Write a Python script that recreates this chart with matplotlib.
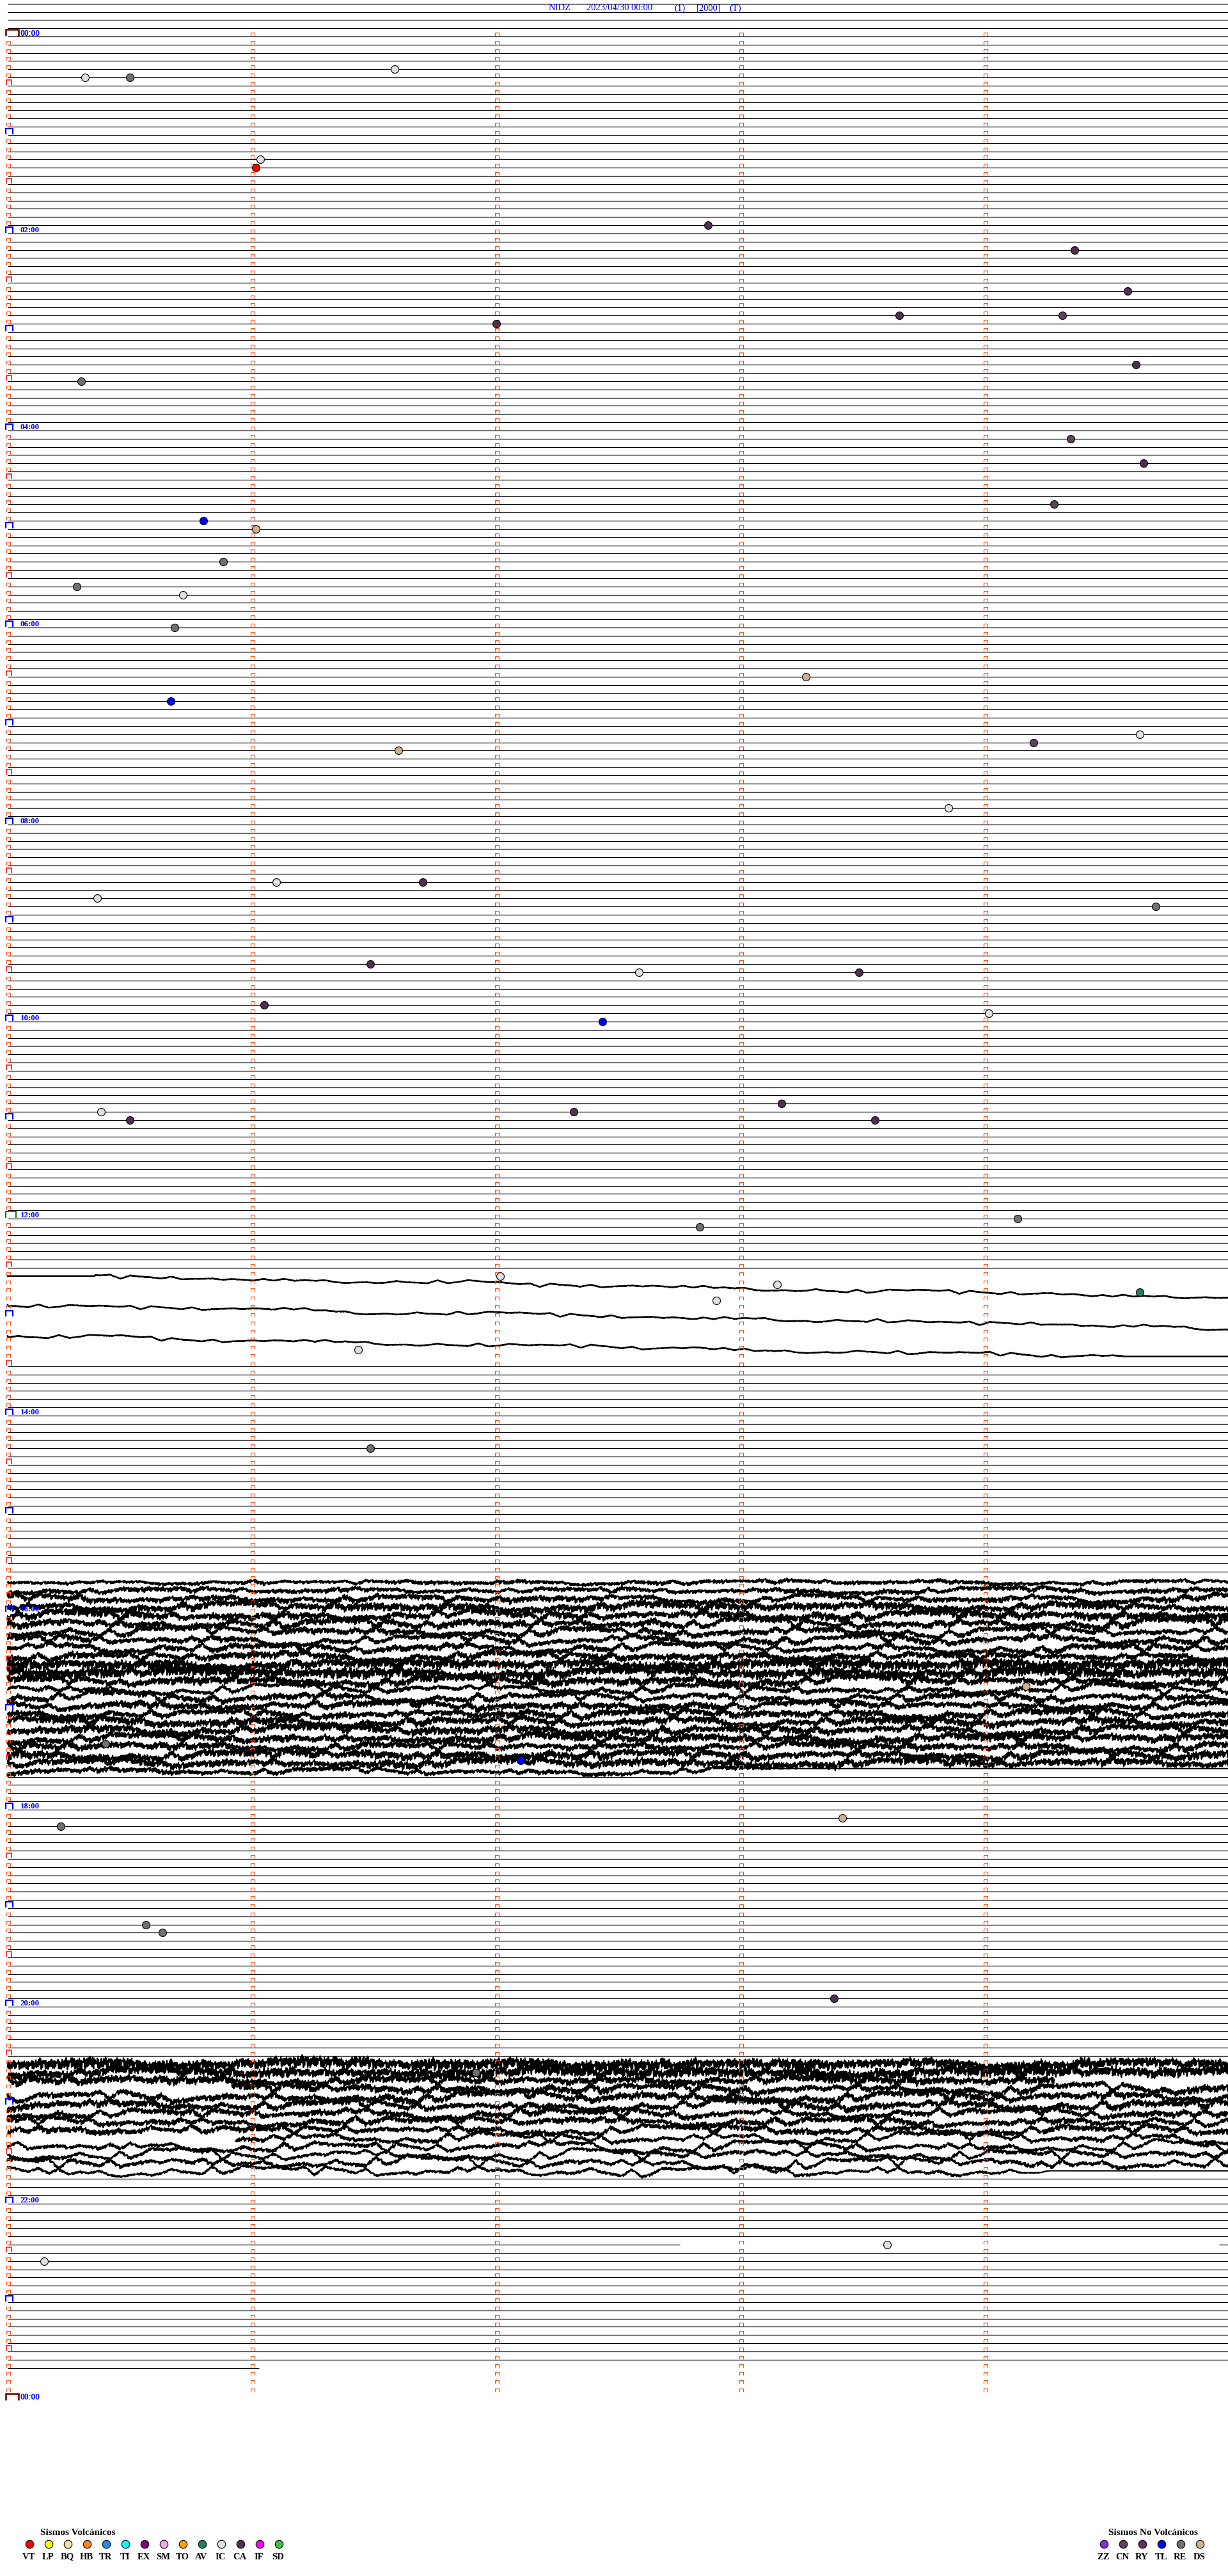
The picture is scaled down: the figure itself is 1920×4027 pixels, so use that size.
import numpy as np
import matplotlib.pyplot as plt
from matplotlib.collections import LineCollection

title_parts = ["NIDZ", "2023/04/30 00:00", "(1)", "[2000]", "(T)"]

n_rows = 288            # 5-minute rows, 00:00 -> 24:00
pre_rows = 4            # empty rows drawn above 00:00
last_row = 284          # last row with data
last_row_end_s = 61.7   # data stops here in the last row

hour_labels = ["00:00", "02:00", "04:00", "06:00", "08:00", "10:00", "12:00",
               "14:00", "16:00", "18:00", "20:00", "22:00", "00:00"]

volc_codes = ["VT", "LP", "BQ", "HB", "TR", "TI", "EX", "SM", "TO", "AV", "IC", "CA", "IF", "SD"]
volc_colors = ["#ff0000", "#ffff00", "#f0e0a8", "#ff8010", "#2888f0", "#00ffff", "#800080",
               "#f0a8e8", "#ffa000", "#208060", "#e0e0e0", "#503050", "#ff00ff", "#40c040"]
novolc_codes = ["ZZ", "CN", "RY", "TL", "RE", "DS"]
novolc_colors = ["#8030d0", "#604060", "#603060", "#0000ff", "#707070", "#d0b090"]

event_times = ["00:21:35", "00:25:19", "00:25:30", "01:16:02", "01:21:01", "01:57:52",
               "02:14:22", "02:39:35", "02:53:39", "02:54:19", "02:57:00", "03:24:37",
               "03:30:18", "04:09:21", "04:24:39", "04:49:17", "04:55:48", "05:01:01",
               "05:20:53", "05:35:17", "05:40:43", "06:00:41", "06:33:16", "06:45:40",
               "07:09:38", "07:14:12", "07:16:36", "07:53:51", "08:36:06", "08:36:42",
               "08:45:22", "08:54:42", "09:26:29", "09:32:35", "09:33:29", "09:51:03",
               "09:59:01", "10:02:26", "10:53:10", "10:55:23", "10:57:19", "11:00:30",
               "11:03:33", "12:04:08", "12:07:50", "12:37:01", "12:43:09", "12:49:38",
               "12:52:54", "13:21:26", "14:21:29", "16:49:10", "17:20:24", "17:32:06",
               "18:08:25", "18:10:13", "19:10:34", "19:15:38", "19:58:23", "20:41:55",
               "22:28:36", "22:35:09"]
event_types = ["IC", "IC", "RE", "IC", "VT", "CA",
               "CA", "CA", "CA", "CN", "CA", "CA",
               "RE", "CN", "CA", "CN", "TL", "DS",
               "RE", "RE", "IC", "RE", "DS", "TL",
               "IC", "CN", "DS", "IC", "IC", "CA",
               "IC", "RE", "CA", "IC", "CA", "CA",
               "IC", "TL", "CA", "IC", "CA", "CA",
               "CA", "RE", "RE", "IC", "IC", "AV",
               "IC", "IC", "RE", "DS", "RE", "TL",
               "DS", "RE", "RE", "RE", "CA", "RE",
               "IC", "IC"]

# noisy rows: high-frequency / long-period amplitude (px) and offset (px)
noise_rows = [188, 189, 190, 191, 192, 193, 194, 195, 196, 197, 198, 199,
              200, 201, 202, 203, 204, 205, 206, 207, 208, 209, 210, 211,
              247, 248, 249, 250, 251, 252, 253, 254, 255, 256, 257, 258, 259, 260]
noise_hf = [4, 5, 6, 8, 8, 7, 6, 6, 6, 7, 11, 11,
            8, 5, 6, 7, 7, 8, 8, 8, 7, 8, 8, 5,
            12, 11, 8, 7, 7, 7, 6, 6, 6, 4, 4, 4, 4, 3]
noise_lf = [3, 4, 5, 5, 6, 7, 7, 7, 7, 6, 5, 5,
            6, 7, 7, 6, 6, 6, 6, 6, 6, 6, 5, 5,
            4, 5, 6, 7, 7, 7, 7, 7, 7, 8, 8, 8, 9, 8]
noise_off = [4, 4, 4, 4, 4, 4, 4, 4, 4, 4, 4, 4,
             4, 4, 4, 4, 4, 4, 4, 4, 4, 4, 4, 4,
             0, 0, 0, 0, 0, 0, 0, 0, 0, 0, 0, 0, 0, 0]
calm_rows = [211, 260]          # noise dies out, flat afterwards
calm_from_s = [191.0, 257.0]

# rows with missing data: spans (s) where a trace exists
gap_rows = [249, 250, 256, 269]
gap_spans = [[(0, 257)], [(55, 300)], [(56, 300)], [(0, 165), (297.5, 300)]]

# 12:35 time-base glitch: three drifting traces
glitch_row0 = [151.0, 154.5, 158.3]
glitch_row1 = [153.6, 157.3, 160.8]
glitch_flat_to = [21.4, 0.0, 0.0]
glitch_flat_from = [300.0, 300.0, 274.5]
glitch_rows = list(range(151, 162))

# hand-drawn wiggle used as trace texture
wiggle = [0.1, 0.8, -0.3, -0.9, 0.4, 0.6, -0.7, 0.2, 0.95, -0.5, -0.1, 0.7, -0.8, 0.3,
          0.5, -0.6, -0.2, 0.9, -0.4, 0.0, 0.65, -0.95, 0.35, -0.15, 0.75, -0.55, 0.45,
          -0.85, 0.25, 0.55, -0.35, -0.75, 0.85, -0.05, 0.15, -0.65, 0.5, -0.25, 0.7,
          -0.45, 0.05]

# ---------------- layout ----------------
W, H, DPI = 1920, 4027, 100
ROW_PX = 12.833
TOP_PX = 57.0
X0_PX = 12.0
MIN_PX = 382.0
SPX = 60.0 / MIN_PX     # seconds per pixel
RPX = 1.0 / ROW_PX      # rows per pixel
LW = 0.72               # 1 px in points

fig = plt.figure(figsize=(W / DPI, H / DPI), dpi=DPI)
ax = fig.add_axes([0, 0, 1, 1])
ax.set_xlim(-X0_PX * SPX, (W - X0_PX) * SPX)
ax.set_ylim((H - TOP_PX) * RPX, -TOP_PX * RPX)
ax.axis("off")

w = np.array(wiggle)
nw = len(w)
SUB = 2                  # samples per pixel
NPT = 1910 * SUB
jj = np.arange(NPT + 1)
ss = jj * 300.0 / NPT


def texture(r, hf, lf):
    kv = np.arange(0, NPT + 16 * SUB, 16 * SUB)
    lfc = np.interp(jj, kv, w[(3 * np.arange(len(kv)) + 7 * r) % nw])
    sv = np.arange(0, NPT + 90 * SUB, 90 * SUB)
    swc = np.interp(jj, sv, w[(5 * np.arange(len(sv)) + 3 * r + 2) % nw])
    hfc = 0.75 * w[(7 * jj + 11 * r) % nw] + 0.25 * w[((jj // 5) * 5 + 3 * r) % nw]
    env = 0.6 + 0.4 * np.abs(w[((jj // (45 * SUB)) * 3 + 2 * r) % nw])
    return lf * lfc + 0.6 * lf * swc + hf * hfc * env


def span_mask(r):
    if r in gap_rows:
        m = np.zeros_like(ss, dtype=bool)
        for a, b in gap_spans[gap_rows.index(r)]:
            m |= (ss >= a) & (ss <= b)
        return m
    return np.ones_like(ss, dtype=bool)


# flat rows
segs = []
for r in range(-pre_rows, last_row + 1):
    if r in noise_rows or r in glitch_rows:
        continue
    if r == last_row:
        segs.append([(0, r), (last_row_end_s, r)])
    elif r in gap_rows:
        for a, b in gap_spans[gap_rows.index(r)]:
            segs.append([(a, r), (b, r)])
    else:
        segs.append([(0, r), (300, r)])
ax.add_collection(LineCollection(segs, colors="black", linewidths=1.2 * LW, zorder=2))

# noisy rows
for r, hf, lf, off in zip(noise_rows, noise_hf, noise_lf, noise_off):
    y = off + texture(r, hf, lf)
    if r in calm_rows:
        c = calm_from_s[calm_rows.index(r)]
        y = y * np.clip((c - ss) / 12.0, 0, 1)
    yr = r + y * RPX
    yr = np.where(span_mask(r), yr, np.nan)
    ax.plot(ss, yr, color="black", lw=2.1 * LW, zorder=2)

# glitch traces
for i, (r0, r1, ft, ff) in enumerate(zip(glitch_row0, glitch_row1, glitch_flat_to, glitch_flat_from)):
    frac = np.clip((ss - ft) / (ff - ft), 0, 1)
    act = ((ss > ft) & (ss < ff)).astype(float)
    tex = texture(151 + 5 * i, 0.6, 3.2) * act
    ax.plot(ss, r0 + (r1 - r0) * frac + tex * RPX, color="black", lw=2.4 * LW, zorder=2)


# time marks
def gate(x_s, r, wl, wr, h, color, lw):
    yb = r - 1 * RPX
    yt = r - (1 + h) * RPX
    ax.plot([x_s + wl * SPX, x_s + wl * SPX, x_s + wr * SPX, x_s + wr * SPX],
            [yb, yt, yt, yb], color=color, lw=lw * LW, zorder=4,
            solid_joinstyle="miter", solid_capstyle="butt")


ORANGE = "#ff4a10"
for r in range(n_rows + 1):
    if r % 12 == 0:
        if r % 288 == 0:
            gate(0, r, -3, 17, 10, "#800000", 2.6)
        elif r == 144:
            gate(0, r, -2.5, 13.5, 10, "#008000", 2.0)
        else:
            gate(0, r, -3, 8, 9, "#0000ff", 2.2)
    elif r % 12 == 6:
        gate(0, r, -2, 6, 8, "#ff0000", 1.5)
    else:
        gate(0, r, -2, 4, 5, ORANGE, 1.2)
    if r < n_rows:
        for k in range(1, 5):
            gate(60 * k, r, -2, 4, 5, ORANGE, 1.2)

for i, lab in enumerate(hour_labels):
    r = 24 * i
    if lab == "00:00":
        ax.text(20 * SPX, r - 1.5 * RPX, lab, color="#0000ff", fontsize=8.7,
                fontfamily="Liberation Sans", fontweight="bold", va="baseline", zorder=5)
    else:
        ax.text(20 * SPX, r - 1.5 * RPX, lab, color="#0000ff", fontsize=9.3,
                fontfamily="Liberation Serif", fontweight="bold", va="baseline", zorder=5)

# events
colors = dict(zip(volc_codes + novolc_codes, volc_colors + novolc_colors))
for t, typ in zip(event_times, event_types):
    hh, mm, sc = (int(v) for v in t.split(":"))
    tot = hh * 3600 + mm * 60 + sc
    ax.plot(tot % 300, tot // 300, "o", ms=8.6, mfc=colors[typ], mec="black",
            mew=0.8, zorder=6)

# ---------------- title and legends (pixel overlay) ----------------
lax = fig.add_axes([0, 0, 1, 1])
lax.set_xlim(0, W)
lax.set_ylim(H, 0)
lax.axis("off")
lax.patch.set_alpha(0)

for txt, xp in zip(title_parts, [858, 917, 1054, 1089, 1140]):
    lax.text(xp, 13, txt, color="#0000ff", fontsize=10.5, fontfamily="Liberation Serif",
             va="center", ha="left")

lax.text(63, 3963, "Sismos Volcánicos", fontsize=11, fontfamily="Liberation Serif",
         fontweight="bold", va="baseline", ha="left")
for k, (c, col) in enumerate(zip(volc_codes, volc_colors)):
    lax.plot(46 + 30 * k, 3977, "o", ms=9, mfc=col, mec="black", mew=0.8)
    lax.text(45 + 30 * k, 3997, c, fontsize=10.5, fontfamily="Liberation Serif",
             fontweight="bold", ha="center", va="center")

lax.text(1733, 3963, "Sismos No Volcánicos", fontsize=11, fontfamily="Liberation Serif",
         fontweight="bold", va="baseline", ha="left")
for k, (c, col) in enumerate(zip(novolc_codes, novolc_colors)):
    lax.plot(1726 + 30 * k, 3977, "o", ms=9, mfc=col, mec="black", mew=0.8)
    lax.text(1725 + 30 * k, 3997, c, fontsize=10.5, fontfamily="Liberation Serif",
             fontweight="bold", ha="center", va="center")

fig.savefig("out.png", dpi=DPI, facecolor="white")
